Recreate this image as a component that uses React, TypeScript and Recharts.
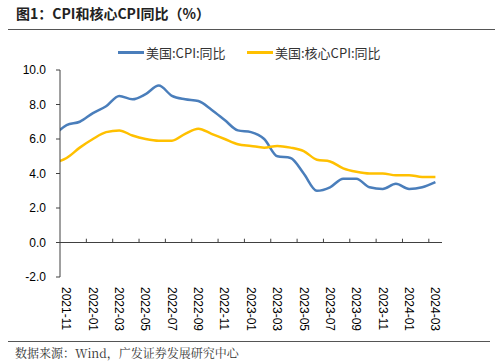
import React from "react";
import { LineChart, Line, XAxis, YAxis, ReferenceLine } from "recharts";

// 2021-10 is kept so the curves run into the left axis (it is clipped away)
const months = [
  "2021-10", "2021-11", "2021-12",
  "2022-01", "2022-02", "2022-03", "2022-04", "2022-05", "2022-06",
  "2022-07", "2022-08", "2022-09", "2022-10", "2022-11", "2022-12",
  "2023-01", "2023-02", "2023-03", "2023-04", "2023-05", "2023-06",
  "2023-07", "2023-08", "2023-09", "2023-10", "2023-11", "2023-12",
  "2024-01", "2024-02", "2024-03",
];
const cpi = [
  6.2, 6.8, 7.0,
  7.5, 7.9, 8.5, 8.3, 8.6, 9.1,
  8.5, 8.3, 8.2, 7.7, 7.1, 6.5,
  6.4, 6.0, 5.0, 4.9, 4.0, 3.0,
  3.2, 3.7, 3.7, 3.2, 3.1, 3.4,
  3.1, 3.2, 3.5,
];
const coreCpi = [
  4.6, 4.9, 5.5,
  6.0, 6.4, 6.5, 6.2, 6.0, 5.9,
  5.9, 6.3, 6.6, 6.3, 6.0, 5.7,
  5.6, 5.5, 5.6, 5.5, 5.3, 4.8,
  4.7, 4.3, 4.1, 4.0, 4.0, 3.9,
  3.9, 3.8, 3.8,
];
const yTicks = [-2, 0, 2, 4, 6, 8, 10];
const xTicks = [0, 2, 4, 6, 8, 10, 12, 14, 16, 18, 20, 22, 24, 26, 28];
const tickMarks = [1.5, 3.5, 5.5, 7.5, 9.5, 11.5, 13.5, 15.5, 17.5, 19.5, 21.5, 23.5, 25.5, 27.5];

const BLUE = "#4A7EBB";
const YELLOW = "#FFC000";
const AXIS = "#404040";
const FONT = "'Liberation Sans', Arial, sans-serif";

const data = months.map((m, idx) => ({
  i: idx - 1,
  cpi: cpi[idx],
  core: coreCpi[idx],
}));

const MonthTick = (props: any) => {
  const { x, y, payload } = props;
  const label = months[payload.value + 1];
  return (
    <text
      x={x}
      y={y}
      dy="0.35em"
      transform={`rotate(90, ${x}, ${y})`}
      textAnchor="start"
      fontSize={12}
      fontFamily={FONT}
      fill="#000"
    >
      {label}
    </text>
  );
};

const LegendItem = ({ color, label, left }: { color: string; label: string; left: number }) => (
  <div style={{ position: "absolute", left, top: 43, display: "flex", alignItems: "center" }}>
    <div style={{ width: 26, height: 3, background: color, marginRight: 2 }} />
    <span style={{ fontSize: 13, fontFamily: "'Noto Sans CJK SC', sans-serif", color: "#333" }}>{label}</span>
  </div>
);

export default function App() {
  return (
    <div style={{ position: "absolute", left: 0, top: 0, width: 500, height: 362, background: "#fff", overflow: "hidden" }}>
      <div
        style={{
          position: "absolute",
          left: 16,
          top: 3,
          fontSize: 14,
          fontWeight: "bold",
          fontFamily: "'Noto Sans CJK SC', sans-serif",
          color: "#222",
        }}
      >
        图1：CPI和核心CPI同比（%）
      </div>
      <div style={{ position: "absolute", left: 8, top: 29, width: 487, height: 1, background: "#555" }} />

      <LegendItem color={BLUE} label="美国:CPI:同比" left={118} />
      <LegendItem color={YELLOW} label="美国:核心CPI:同比" left={247} />

      <div style={{ position: "absolute", left: 0, top: 0 }}>
        <LineChart width={500} height={362} data={data} margin={{ top: 70, right: 58, bottom: 25, left: 0 }}>
          <XAxis
            dataKey="i"
            type="number"
            domain={[-0.5, 28.5]}
            ticks={xTicks}
            allowDataOverflow
            axisLine={false}
            tickLine={false}
            tickSize={0}
            tickMargin={10}
            height={60}
            interval={0}
            tick={<MonthTick />}
          />
          <YAxis
            type="number"
            domain={[-2, 10]}
            ticks={yTicks}
            width={60}
            allowDataOverflow
            tickFormatter={(v: number) => v.toFixed(1)}
            axisLine={{ stroke: AXIS, strokeWidth: 1 }}
            tickLine={{ stroke: AXIS }}
            tickSize={4}
            tickMargin={10}
            tick={{ fill: "#000", fontSize: 12, fontFamily: FONT }}
          />
          <ReferenceLine y={0} stroke={AXIS} strokeWidth={1} />
          {tickMarks.map((t) => (
            <ReferenceLine
              key={t}
              segment={[
                { x: t, y: 0 },
                { x: t, y: 0.22 },
              ]}
              stroke={AXIS}
              strokeWidth={1}
            />
          ))}
          <Line
            type="monotone"
            dataKey="cpi"
            name="美国:CPI:同比"
            stroke={BLUE}
            strokeWidth={2.5}
            dot={false}
            isAnimationActive={false}
          />
          <Line
            type="monotone"
            dataKey="core"
            name="美国:核心CPI:同比"
            stroke={YELLOW}
            strokeWidth={2.5}
            dot={false}
            isAnimationActive={false}
          />
        </LineChart>
      </div>

      <div style={{ position: "absolute", left: 8, top: 341, width: 482, height: 1, background: "#555" }} />
      <div
        style={{
          position: "absolute",
          left: 15,
          top: 344,
          fontSize: 12,
          fontFamily: "'Noto Serif CJK SC', 'Noto Sans CJK SC', serif",
          color: "#333",
        }}
      >
        数据来源：Wind，广发证券发展研究中心
      </div>
    </div>
  );
}
